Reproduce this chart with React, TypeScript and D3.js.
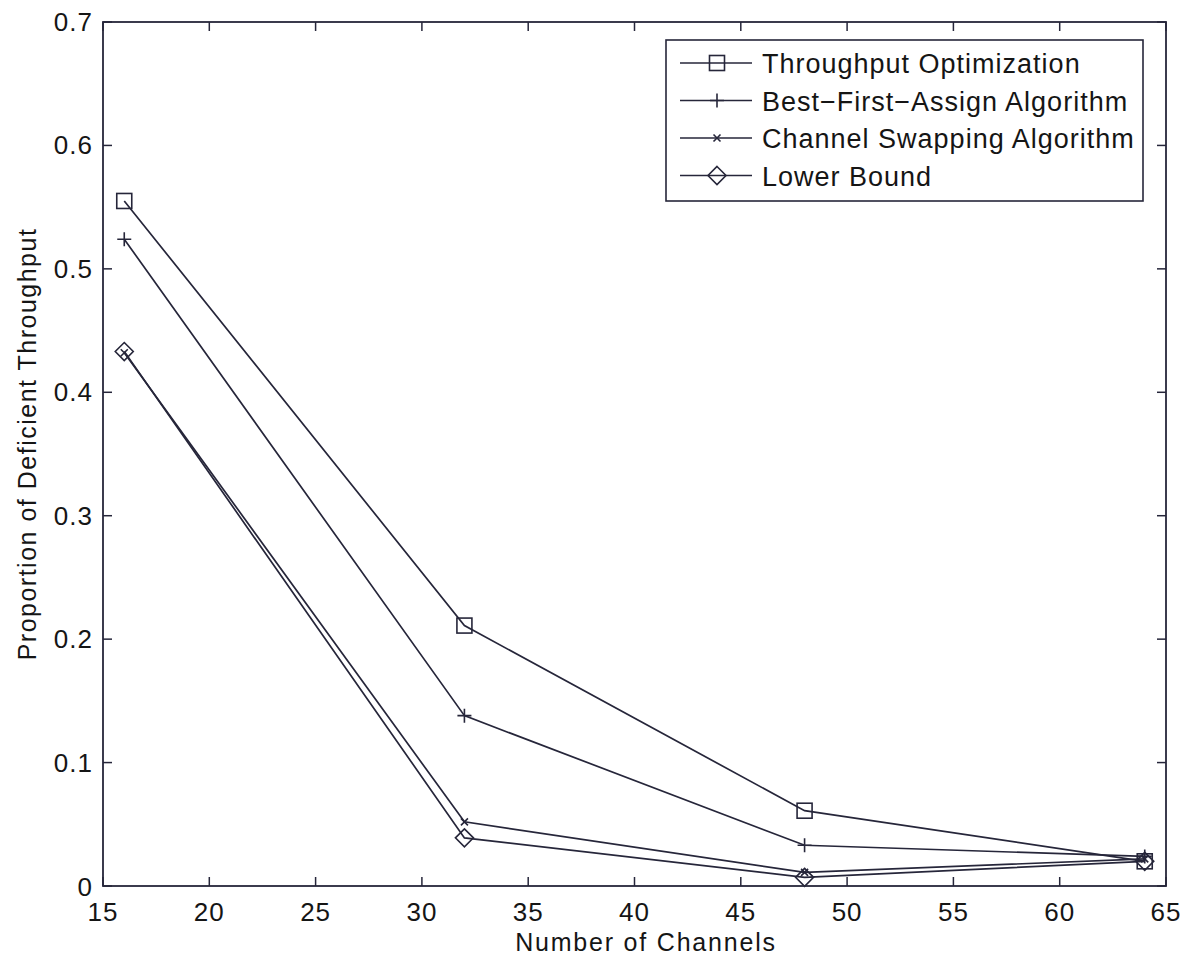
import React, { useEffect, useRef } from 'react';
import * as d3 from 'd3';

const channels = [16, 32, 48, 64];
const throughputOpt = [0.555, 0.211, 0.061, 0.02];
const bestFirst = [0.524, 0.138, 0.033, 0.024];
const channelSwap = [0.432, 0.052, 0.011, 0.022];
const lowerBound = [0.433, 0.039, 0.007, 0.02];
const seriesNames = [
  'Throughput Optimization',
  'Best\u2212First\u2212Assign Algorithm',
  'Channel Swapping Algorithm',
  'Lower Bound',
];
const xTicks = [15, 20, 25, 30, 35, 40, 45, 50, 55, 60, 65];
const yTicks = [0, 0.1, 0.2, 0.3, 0.4, 0.5, 0.6, 0.7];

const W = 1188, H = 956;
const left = 103, right = 1166, top = 22, bottom = 886;
const ink = '#26263a';
const font = 'Liberation Sans, Arial, sans-serif';

function drawMarker(g: any, type: string, x: number, y: number) {
  if (type === 'square') {
    g.append('rect').attr('x', x - 7.5).attr('y', y - 7.5).attr('width', 15).attr('height', 15)
      .attr('fill', 'none').attr('stroke', ink).attr('stroke-width', 1.6);
  } else if (type === 'plus') {
    g.append('path').attr('d', `M${x - 7},${y}H${x + 7}M${x},${y - 7}V${y + 7}`)
      .attr('stroke', ink).attr('stroke-width', 1.6);
  } else if (type === 'x') {
    g.append('path').attr('d', `M${x - 3.5},${y - 3.5}L${x + 3.5},${y + 3.5}M${x - 3.5},${y + 3.5}L${x + 3.5},${y - 3.5}`)
      .attr('stroke', ink).attr('stroke-width', 1.6);
  } else {
    g.append('path').attr('d', `M${x},${y - 9}L${x + 9},${y}L${x},${y + 9}L${x - 9},${y}Z`)
      .attr('fill', 'none').attr('stroke', ink).attr('stroke-width', 1.6);
  }
}

export default function App() {
  const ref = useRef<SVGSVGElement>(null);
  useEffect(() => {
    const svg = d3.select(ref.current);
    svg.selectAll('*').remove();
    const x = d3.scaleLinear().domain([15, 65]).range([left, right]);
    const y = d3.scaleLinear().domain([0, 0.7]).range([bottom, top]);

    const g = svg.append('g');
    g.append('rect').attr('x', 0).attr('y', 0).attr('width', W).attr('height', H).attr('fill', '#fff');

    // ticks (inside, mirrored)
    xTicks.forEach(t => {
      g.append('line').attr('x1', x(t)).attr('x2', x(t)).attr('y1', bottom).attr('y2', bottom - 9)
        .attr('stroke', ink).attr('stroke-width', 1.5);
      g.append('line').attr('x1', x(t)).attr('x2', x(t)).attr('y1', top).attr('y2', top + 9)
        .attr('stroke', ink).attr('stroke-width', 1.5);
      g.append('text').attr('x', x(t)).attr('y', bottom + 35).attr('text-anchor', 'middle')
        .attr('font-family', font).attr('font-size', 26).attr('letter-spacing', 1)
        .attr('fill', '#151515').text(t);
    });
    yTicks.forEach(t => {
      g.append('line').attr('x1', left).attr('x2', left + 9).attr('y1', y(t)).attr('y2', y(t))
        .attr('stroke', ink).attr('stroke-width', 1.5);
      g.append('line').attr('x1', right).attr('x2', right - 9).attr('y1', y(t)).attr('y2', y(t))
        .attr('stroke', ink).attr('stroke-width', 1.5);
      g.append('text').attr('x', left - 10).attr('y', y(t) + (t === 0 ? 10 : 9)).attr('text-anchor', 'end')
        .attr('font-family', font).attr('font-size', 26).attr('letter-spacing', 1)
        .attr('fill', '#151515').text(d3.format('~g')(t));
    });
    g.append('rect').attr('x', left).attr('y', top).attr('width', right - left).attr('height', bottom - top)
      .attr('fill', 'none').attr('stroke', ink).attr('stroke-width', 1.8);

    const series = [
      { vals: throughputOpt, m: 'square' },
      { vals: bestFirst, m: 'plus' },
      { vals: channelSwap, m: 'x' },
      { vals: lowerBound, m: 'diamond' },
    ];
    const line = d3.line<number>().x((_, i) => x(channels[i])).y(d => y(d));
    series.forEach(s => {
      g.append('path').attr('d', line(s.vals)).attr('fill', 'none').attr('stroke', ink).attr('stroke-width', 1.7);
      s.vals.forEach((v, i) => drawMarker(g, s.m, x(channels[i]), y(v)));
    });

    // legend
    const lx = 666, ly = 40, lw = 477, lh = 161;
    g.append('rect').attr('x', lx).attr('y', ly).attr('width', lw).attr('height', lh)
      .attr('fill', '#fff').attr('stroke', ink).attr('stroke-width', 1.6);
    series.forEach((s, i) => {
      const yy = ly + 23 + i * 37.5;
      g.append('line').attr('x1', lx + 14).attr('x2', lx + 86).attr('y1', yy).attr('y2', yy)
        .attr('stroke', ink).attr('stroke-width', 1.6);
      drawMarker(g, s.m, lx + 51, yy);
      g.append('text').attr('x', lx + 96).attr('y', yy + 10).attr('font-family', font)
        .attr('font-size', 27).attr('letter-spacing', 1).attr('fill', '#151515').text(seriesNames[i]);
    });

    g.append('text').attr('x', 646).attr('y', 951).attr('text-anchor', 'middle')
      .attr('font-family', font).attr('font-size', 25).attr('letter-spacing', 1.8)
      .attr('fill', '#151515').text('Number of Channels');
    g.append('text').attr('transform', `translate(36,444) rotate(-90)`)
      .attr('text-anchor', 'middle').attr('font-family', font).attr('font-size', 25)
      .attr('letter-spacing', 1.5).attr('fill', '#151515')
      .text('Proportion of Deficient Throughput');
  }, []);
  return <svg ref={ref} width={W} height={H} style={{ position: 'absolute', left: 0, top: 0 }} />;
}
